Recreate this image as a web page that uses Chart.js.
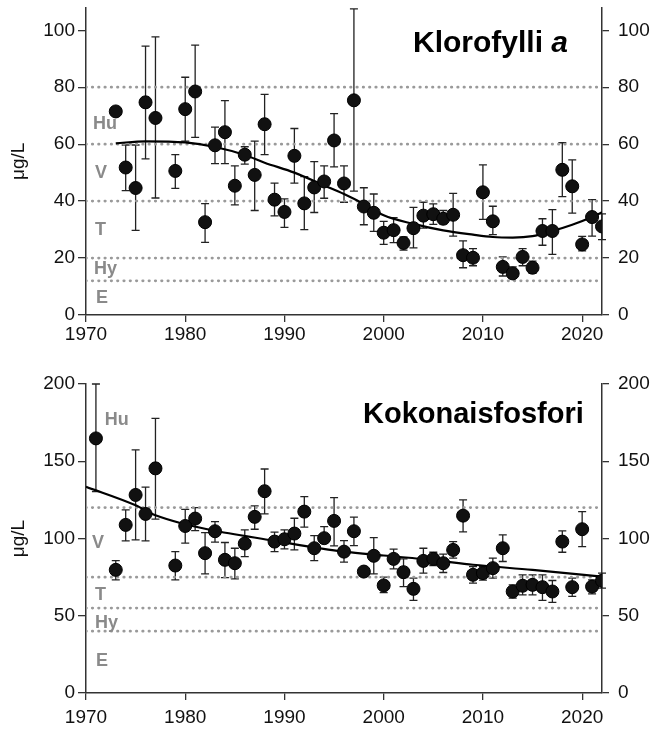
<!DOCTYPE html>
<html><head><meta charset="utf-8">
<script src="https://cdn.jsdelivr.net/npm/chart.js@4.4.1/dist/chart.umd.min.js"></script>
<style>
html,body{margin:0;padding:0;background:#fff;}
#w1{position:absolute;left:0;top:0;width:666px;height:350px;}
#w2{position:absolute;left:0;top:350px;width:666px;height:386px;}
</style></head><body>
<div id="w1"><canvas id="c1" width="666" height="350"></canvas></div>
<div id="w2"><canvas id="c2" width="666" height="386"></canvas></div>
<script>
// ---------- Data ----------
const xTicks = [1970, 1980, 1990, 2000, 2010, 2020];
const xMin = 1970, xMax = 2022;

// Klorofylli a (µg/L)
const chlYears = [1973,1974,1975,1976,1977,1979,1980,1981,1982,1983,1984,1985,1986,1987,1988,1989,1990,1991,1992,1993,1994,1995,1996,1997,1998,1999,2000,2001,2002,2003,2004,2005,2006,2007,2008,2009,2010,2011,2012,2013,2014,2015,2016,2017,2018,2019,2020,2021,2022];
const chlMean = [71.5,51.8,44.6,74.7,69.2,50.6,72.3,78.5,32.6,59.6,64.2,45.4,56.3,49.2,67,40.5,36.2,55.9,39.2,44.8,46.9,61.3,46.2,75.4,38.1,35.9,28.9,29.8,25.3,30.5,34.9,35.4,33.8,35.2,21,20.1,43.1,32.9,16.9,14.6,20.4,16.6,29.5,29.5,51,45.2,24.8,34.4,31.1];
const chlLow = [null,43.7,29.7,54.8,41.1,44.5,61.1,62.4,25.5,53.2,53.2,38.7,53,36.7,56.3,34.8,30.8,46.3,30,36,41,52,39.6,43.5,31.7,29.4,24.8,25.4,22.8,23.6,30.5,31.8,32,27.7,16.6,17.3,33.6,28.2,13.7,13,17.3,14.6,24.5,21.3,41.6,35.8,22.5,27.7,26.5];
const chlHigh = [null,59.7,59.7,94.4,97.7,56.3,83.5,94.8,39.1,66,75.3,52.4,59.1,61.1,77.5,46.3,40.8,65.5,48.6,53.9,52.4,70.7,52.4,107.5,44.7,42.5,32.9,34.2,27.4,37.8,39.6,39,36.7,42.7,26,23.3,52.7,38.2,20.4,16.9,23.3,18.9,33.8,37,60.5,54.5,27.6,40.5,35.5];
const chlTrendYears = [1973,1976,1980,1983,1986,1988,1991,1994,1996,1998,2000,2003,2006,2009,2011,2013,2015,2017,2019,2021,2022];
const chlTrend = [60.3,61,60.6,59,56.2,53.5,50,45.5,42.5,39,35,32,29.7,28.2,27.4,27.2,27.7,29.5,31.7,34.4,36.1];
const chlLimits = [80,60,40,20,12];
const chlClassNames = ['Hu','V','T','Hy','E'];
const chlClassAt = [67,50,30,16,6];
const chlClassYear = [1970.7,1970.9,1970.9,1970.8,1971];
const chlTicks = [0,20,40,60,80,100];

// Kokonaisfosfori (µg/L)
const tpYears = [1971,1973,1974,1975,1976,1977,1979,1980,1981,1982,1983,1984,1985,1986,1987,1988,1989,1990,1991,1992,1993,1994,1995,1996,1997,1998,1999,2000,2001,2002,2003,2004,2005,2006,2007,2008,2009,2010,2011,2012,2013,2014,2015,2016,2017,2018,2019,2020,2021,2022];
const tpMean = [164.8,79.7,108.8,128.2,115.9,145.4,82.5,108.1,112.9,90.5,104.7,86.2,84,96.7,114,130.6,98,99.5,103.2,117.4,93.7,100.2,111.4,91.5,104.7,78.6,88.8,69.6,86.8,78.2,67.4,85.5,86.8,84,92.6,114.8,76.5,77.6,80.8,93.7,65.7,69.4,70,68.5,65.7,98,68.5,106,68.9,72.6];
const tpLow = [130.3,73.2,98.4,99.1,98.4,112.5,73.2,97,105.1,77.1,97.6,74.7,73.9,88.3,106,115.9,91.5,93.3,92.6,107.3,85.7,97,95.2,84.7,95.4,76.7,77.1,65,80.3,68.9,59.9,77.6,82.5,78,87.3,104.3,71.1,73,74.3,85.1,61.4,63.5,63.5,59.9,58.6,91.1,62.5,94.8,64.2,67.9];
const tpHigh = [200,85.7,118.5,157.3,133.2,177.8,91.5,118.9,120,103.8,110.9,97.4,93.7,105.6,121.1,145,104.1,105.6,113.1,127.1,101.9,107.7,126.4,98.6,113.8,81.1,100.6,75,93.1,86.8,74.3,93.7,91.1,89.9,98,125,81.8,82,87.3,102.3,70,76.5,76.5,76.5,72.8,104.9,74.3,117.4,73.2,77.6];
const tpTrendYears = [1970,1975,1977,1980,1983,1989,1996,2000,2005,2009,2015,2022];
const tpTrend = [133.5,121.5,115,109.2,105,98.5,91.5,89,86,83,79.7,75.3];
const tpLimits = [120,75,55,40];
const tpClassNames = ['Hu','V','T','Hy','E'];
const tpClassAt = [177,97,63.5,45.5,20.5];
const tpClassYear = [1971.9,1970.6,1970.9,1970.9,1971];
const tpTicks = [0,50,100,150,200];

// ---------- Helpers ----------
const FONT = "'Liberation Sans', Arial, sans-serif";
const AXIS = '#333';

const errorBarPlugin = {
  id: 'errorBars',
  beforeDatasetsDraw(chart, args, opts) {
    const {ctx, scales: {x, y}} = chart;
    ctx.save();
    ctx.strokeStyle = '#222';
    ctx.lineWidth = 1.3;
    opts.years.forEach((yr, i) => {
      const lo = opts.low[i], hi = opts.high[i];
      if (lo == null || hi == null) return;
      const px = x.getPixelForValue(yr);
      const pl = y.getPixelForValue(lo), ph = y.getPixelForValue(hi);
      ctx.beginPath();
      ctx.moveTo(px, pl); ctx.lineTo(px, ph);
      ctx.moveTo(px - 4, pl); ctx.lineTo(px + 4, pl);
      ctx.moveTo(px - 4, ph); ctx.lineTo(px + 4, ph);
      ctx.stroke();
    });
    ctx.restore();
  }
};

const textPlugin = {
  id: 'texts',
  afterDatasetsDraw(chart, args, opts) {
    const {ctx, scales: {x, y}} = chart;
    ctx.save();
    ctx.fillStyle = '#8a8a8a';
    ctx.font = 'bold 18px ' + FONT;
    ctx.textBaseline = 'middle';
    ctx.textAlign = 'left';
    opts.names.forEach((n, i) => {
      ctx.fillText(n, x.getPixelForValue(opts.years[i]), y.getPixelForValue(opts.at[i]));
    });
    // title
    ctx.fillStyle = '#000';
    ctx.textBaseline = 'alphabetic';
    ctx.font = 'bold ' + opts.tsize + 'px ' + FONT;
    ctx.fillText(opts.title, opts.tx, opts.ty);
    if (opts.titleItalic) {
      const w = ctx.measureText(opts.title + ' ').width;
      ctx.font = 'bold italic ' + opts.tsize + 'px ' + FONT;
      ctx.fillText(opts.titleItalic, opts.tx + w, opts.ty);
    }
    ctx.restore();
  }
};

function makeChart(id, cfg) {
  const pts = cfg.years.map((yr, i) => ({x: yr, y: cfg.mean[i]}));
  const trend = cfg.trendYears.map((yr, i) => ({x: yr, y: cfg.trend[i]}));
  const limitSets = cfg.limits.map(L => ({
    type: 'line',
    data: [{x: xMin, y: L}, {x: xMax, y: L}],
    borderColor: '#9a9a9a', borderWidth: 2.8, borderDash: [0.4, 5.9], borderCapStyle: 'round',
    pointRadius: 0, order: 5, yAxisID: 'y'
  }));
  const yCommon = (pos) => ({
    type: 'linear', position: pos, min: 0, max: cfg.ymax,
    afterBuildTicks: s => { s.ticks = cfg.ticks.map(v => ({value: v})); },
    ticks: {color: '#111', font: {family: FONT, size: 19}, padding: pos === 'left' ? 3 : 9,
            callback: v => String(v)},
    grid: {drawOnChartArea: false, drawTicks: true, tickLength: pos === 'left' ? 8 : 7, color: AXIS, lineWidth: 1.3},
    border: {display: true, color: AXIS, width: 1.5},
    afterFit: s => { s.width = pos === 'left' ? 86 : 64; s.paddingTop = 0; s.paddingBottom = 0; }
  });
  const yLeft = yCommon('left');
  yLeft.title = {display: true, text: 'μg/L', color: '#111', font: {family: FONT, size: 19}, padding: {top: 7, bottom: 0}};
  const yRight = yCommon('right');
  return new Chart(document.getElementById(id), {
    data: {
      datasets: [
        {type: 'scatter', data: pts, pointRadius: 6.5, pointHoverRadius: 6.5,
         backgroundColor: '#111', borderColor: '#000', borderWidth: 1, order: 0, yAxisID: 'y'},
        {type: 'line', data: trend, borderColor: '#000', borderWidth: 2.2, pointRadius: 0,
         cubicInterpolationMode: 'monotone', order: 1, yAxisID: 'y'},
        ...limitSets
      ]
    },
    options: {
      responsive: false, animation: false, devicePixelRatio: 1,
      layout: {padding: {top: cfg.padTop, left: 0, right: 0, bottom: 0}},
      plugins: {
        legend: {display: false}, tooltip: {enabled: false}, title: {display: false},
        errorBars: {years: cfg.years, low: cfg.low, high: cfg.high},
        texts: {names: cfg.classNames, at: cfg.classAt, years: cfg.classYear,
                title: cfg.title, titleItalic: cfg.titleItalic, tx: cfg.tx, ty: cfg.ty, tsize: cfg.tsize}
      },
      scales: {
        x: {
          type: 'linear', min: xMin, max: xMax,
          afterBuildTicks: s => { s.ticks = xTicks.map(v => ({value: v})); },
          ticks: {color: '#111', font: {family: FONT, size: 19}, padding: cfg.xPad,
                  callback: v => String(v)},
          grid: {drawOnChartArea: false, drawTicks: true, tickLength: 7, color: AXIS, lineWidth: 1.3},
          border: {display: true, color: AXIS, width: 1.5},
          afterFit: s => { s.height = cfg.xHeight; s.paddingLeft = 0; s.paddingRight = 0; }
        },
        y: yLeft,
        y2: yRight
      }
    },
    plugins: [errorBarPlugin, textPlugin]
  });
}

makeChart('c1', {
  years: chlYears, mean: chlMean, low: chlLow, high: chlHigh,
  trendYears: chlTrendYears, trend: chlTrend, limits: chlLimits,
  classNames: chlClassNames, classAt: chlClassAt, classYear: chlClassYear,
  ticks: chlTicks, ymax: 108, padTop: 6, xHeight: 35, xPad: 1,
  title: 'Klorofylli', titleItalic: 'a', tx: 413, ty: 52, tsize: 30
});
makeChart('c2', {
  years: tpYears, mean: tpMean, low: tpLow, high: tpHigh,
  trendYears: tpTrendYears, trend: tpTrend, limits: tpLimits,
  classNames: tpClassNames, classAt: tpClassAt, classYear: tpClassYear,
  ticks: tpTicks, ymax: 200, padTop: 34, xHeight: 43, xPad: 6,
  title: 'Kokonaisfosfori', titleItalic: null, tx: 363, ty: 73, tsize: 29
});
</script>
</body></html>
